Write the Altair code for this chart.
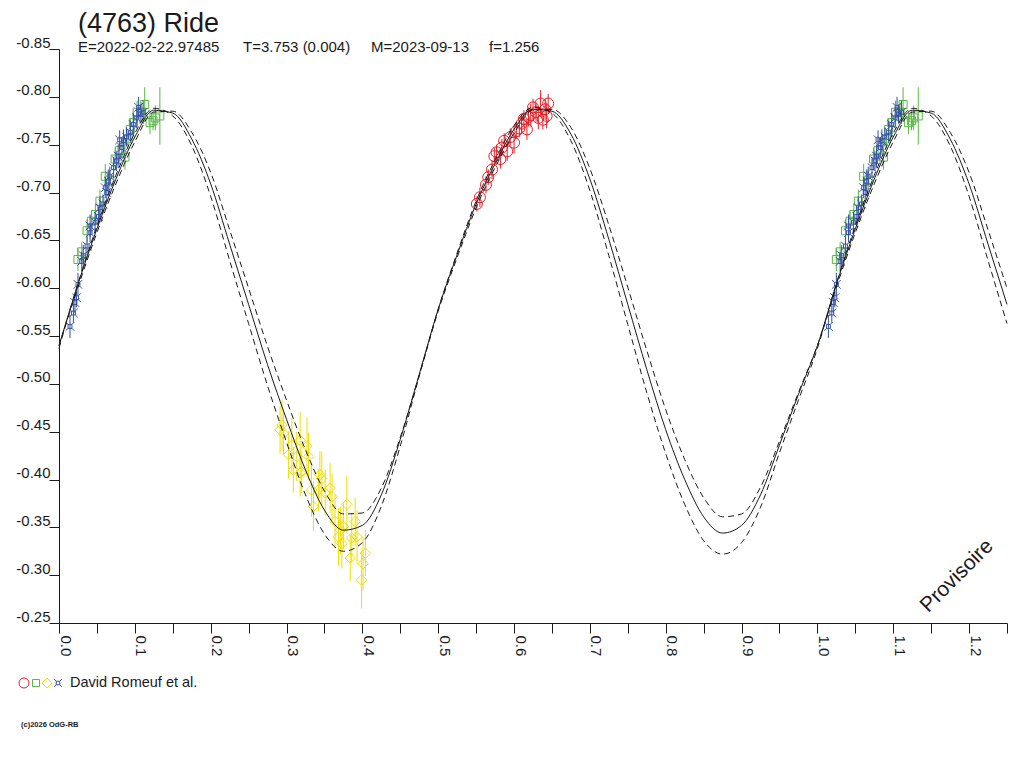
import altair as alt
import pandas as pd

# ---------------- data ----------------
# fitted lightcurve, read every 0.025 in phase from 0 to 0.975 (periodic)
fit_mid = [-0.540, -0.604, -0.662, -0.714, -0.758, -0.786, -0.783, -0.756, -0.709, -0.646,
           -0.583, -0.520, -0.463, -0.410, -0.368, -0.347, -0.352, -0.384, -0.442, -0.510,
           -0.578, -0.635, -0.688, -0.730, -0.766, -0.787, -0.785, -0.761, -0.714, -0.651,
           -0.583, -0.515, -0.452, -0.400, -0.361, -0.344, -0.352, -0.384, -0.436, -0.489]
fit_deep = [-0.537, -0.605, -0.665, -0.718, -0.762, -0.788, -0.780, -0.749, -0.696, -0.629,
            -0.563, -0.498, -0.439, -0.384, -0.343, -0.325, -0.334, -0.372, -0.435, -0.508,
            -0.578, -0.637, -0.691, -0.734, -0.770, -0.789, -0.783, -0.754, -0.702, -0.634,
            -0.562, -0.491, -0.427, -0.374, -0.336, -0.322, -0.334, -0.371, -0.428, -0.483]
fit_shallow = [-0.540, -0.601, -0.658, -0.709, -0.753, -0.784, -0.785, -0.763, -0.721, -0.661,
               -0.600, -0.539, -0.483, -0.431, -0.388, -0.364, -0.365, -0.391, -0.444, -0.509,
               -0.576, -0.632, -0.684, -0.726, -0.762, -0.786, -0.787, -0.768, -0.725, -0.666,
               -0.601, -0.535, -0.473, -0.421, -0.381, -0.361, -0.364, -0.392, -0.440, -0.491]

red_phase = [0.551, 0.555, 0.563, 0.566, 0.571, 0.574, 0.577, 0.582, 0.584, 0.587, 0.591, 0.595,
             0.600, 0.603, 0.607, 0.610, 0.613, 0.617, 0.619, 0.622, 0.625, 0.629, 0.632, 0.635,
             0.638, 0.641, 0.643, 0.645]
red_mag = [-0.688, -0.695, -0.708, -0.716, -0.724, -0.738, -0.742, -0.735, -0.747, -0.754, -0.743, -0.758,
           -0.752, -0.764, -0.767, -0.772, -0.777, -0.766, -0.779, -0.781, -0.789, -0.784, -0.778, -0.793,
           -0.776, -0.787, -0.780, -0.793]
red_err = [0.008, 0.010, 0.009, 0.008, 0.010, 0.009, 0.008, 0.010, 0.009, 0.008, 0.010, 0.009,
           0.011, 0.008, 0.009, 0.010, 0.009, 0.011, 0.010, 0.012, 0.009, 0.010, 0.012, 0.014,
           0.010, 0.011, 0.013, 0.010]

green_phase = [0.025, 0.030, 0.037, 0.043, 0.048, 0.054, 0.061, 0.067, 0.074, 0.080, 0.087,
               0.091, 0.094, 0.098, 0.103, 0.109, 0.113, 0.120, 0.124, 0.127, 0.133]
green_mag = [-0.630, -0.638, -0.660, -0.670, -0.677, -0.691, -0.717, -0.713, -0.735, -0.744, -0.737,
             -0.756, -0.766, -0.773, -0.784, -0.784, -0.792, -0.773, -0.775, -0.778, -0.780]
green_err = [0.012, 0.010, 0.012, 0.010, 0.011, 0.012, 0.013, 0.010, 0.012, 0.011, 0.013,
             0.010, 0.012, 0.011, 0.012, 0.010, 0.018, 0.012, 0.010, 0.013, 0.030]

yellow_phase = [0.2915, 0.294, 0.296, 0.3025, 0.307, 0.309, 0.3135, 0.318, 0.318, 0.320, 0.327,
                0.329, 0.333, 0.3355, 0.342, 0.344, 0.3465, 0.351, 0.3575, 0.360, 0.364, 0.3685,
                0.371, 0.373, 0.375, 0.3795, 0.384, 0.386, 0.3905, 0.393, 0.399, 0.401, 0.404]
yellow_mag = [-0.452, -0.457, -0.448, -0.426, -0.436, -0.410, -0.424, -0.441, -0.407, -0.408, -0.435,
              -0.424, -0.389, -0.372, -0.389, -0.405, -0.401, -0.386, -0.391, -0.382, -0.356, -0.340,
              -0.347, -0.333, -0.351, -0.374, -0.318, -0.339, -0.356, -0.340, -0.295, -0.312, -0.323]
yellow_err = [0.025, 0.027, 0.022, 0.025, 0.028, 0.024, 0.026, 0.030, 0.025, 0.022, 0.030,
              0.025, 0.028, 0.026, 0.022, 0.025, 0.028, 0.024, 0.026, 0.024, 0.028, 0.030,
              0.025, 0.026, 0.024, 0.030, 0.024, 0.026, 0.025, 0.028, 0.030, 0.028, 0.024]

blue_phase = [0.0145, 0.019, 0.021, 0.023, 0.025, 0.030, 0.032, 0.037, 0.041, 0.041, 0.0475,
              0.052, 0.054, 0.058, 0.061, 0.063, 0.065, 0.067, 0.072, 0.076, 0.078, 0.080,
              0.083, 0.085, 0.089, 0.094, 0.098, 0.1025, 0.105, 0.107, 0.111]
blue_mag = [-0.560, -0.574, -0.585, -0.590, -0.604, -0.628, -0.634, -0.644, -0.665, -0.658, -0.669,
            -0.675, -0.684, -0.688, -0.705, -0.700, -0.712, -0.717, -0.726, -0.733, -0.738, -0.755,
            -0.747, -0.754, -0.758, -0.763, -0.771, -0.778, -0.789, -0.782, -0.784]
blue_err = [0.012, 0.010, 0.011, 0.010, 0.012, 0.010, 0.011, 0.010, 0.012, 0.010, 0.011,
            0.010, 0.012, 0.010, 0.011, 0.010, 0.012, 0.010, 0.011, 0.010, 0.012, 0.010,
            0.011, 0.012, 0.010, 0.011, 0.012, 0.010, 0.011, 0.010, 0.012]

title_text = "(4763) Ride"
sub_texts = ["E=2022-02-22.97485", "T=3.753 (0.004)", "M=2023-09-13", "f=1.256"]
legend_text = "David Romeuf et al."
x_ticks = [round(0.05 * i, 2) for i in range(26)]
y_ticks = [round(-0.85 + 0.05 * i, 2) for i in range(13)]

# ---------------- tables ----------------
n_base = len(fit_mid)
curve_rows = []
for name, vals in (("mid", fit_mid), ("deep", fit_deep), ("shallow", fit_shallow)):
    for i in range(51):
        curve_rows.append({"phase": round(i * 0.025, 3), "mag": vals[i % n_base], "curve": name})
curves = pd.DataFrame(curve_rows)


def group_df(ph, mg, er):
    rows = []
    for p, m, e in zip(ph, mg, er):
        for shift in ((0.0, 1.0) if p < 0.25 else (0.0,)):
            rows.append({"phase": p + shift, "mag": m, "lo": m - e, "hi": m + e})
    return pd.DataFrame(rows)


FONT = "Liberation Sans"
INK = "#1a1a1a"
xs = alt.Scale(domain=[0, 1.25], nice=False, zero=False)
ys = alt.Scale(domain=[-0.85, -0.25], nice=False, zero=False, reverse=True)

x_axis = alt.Axis(values=x_ticks, title=None, grid=False, tickSize=10, labelPadding=2,
                  labelAngle=90, labelAlign="left", labelBaseline="alphabetic", labelOffset=1,
                  labelFlush=False, labelOverlap=False,
                  labelExpr="(round(datum.value*100) % 10 == 0) ? format(datum.value, '.1f') : ''",
                  labelFont=FONT, labelFontSize=15, labelColor=INK,
                  domainColor=INK, tickColor=INK)
y_axis = alt.Axis(values=y_ticks, title=None, grid=False, tickSize=10, labelPadding=-1,
                  labelAlign="right", labelBaseline="alphabetic", labelOffset=-2,
                  labelFlush=False, labelOverlap=False,
                  labelExpr="'-' + format(abs(datum.value), '.2f')",
                  labelFont=FONT, labelFontSize=15, labelColor=INK,
                  domainColor=INK, tickColor=INK)

X = alt.X("phase:Q", scale=xs, axis=x_axis)
Y = alt.Y("mag:Q", scale=ys, axis=y_axis)

BLUE_SHAPE = ("M-0.45,-0.45H0.45V0.45H-0.45Z M-0.45,-0.45L-1,-1 M0.45,-0.45L1,-1 "
              "M0.45,0.45L1,1 M-0.45,0.45L-1,1")

groups = [
    (red_phase, red_mag, red_err, "#e4202a", "circle", 121),
    (green_phase, green_mag, green_err, "#5ab646", "square", 64),
    (yellow_phase, yellow_mag, yellow_err, "#f0df00", "diamond", 110),
    (blue_phase, blue_mag, blue_err, "#3550a4", BLUE_SHAPE, 75),
]

layers = []
for ph, mg, er, col, shp, sz in groups:
    df = group_df(ph, mg, er)
    base = alt.Chart(df)
    layers.append(base.mark_rule(color=col, strokeWidth=1).encode(
        x=X, y=alt.Y("lo:Q", scale=ys, axis=y_axis), y2="hi:Q"))
    layers.append(base.mark_point(shape=shp, size=sz, filled=False, color=col,
                                  strokeWidth=1, opacity=1).encode(x=X, y=Y))

for name, dash in (("mid", None), ("deep", [6, 4]), ("shallow", [6, 4])):
    kw = dict(interpolate="monotone", color=INK, strokeWidth=1)
    if dash:
        kw["strokeDash"] = dash
    layers.append(alt.Chart(curves[curves.curve == name]).mark_line(**kw).encode(x=X, y=Y))

one = pd.DataFrame({"a": [0]})
ann = alt.Chart(one)


def label(txt, x, y, size, **kw):
    return ann.mark_text(text=txt, font=FONT, fontSize=size, color=INK, align="left",
                         baseline="middle", **kw).encode(x=alt.value(x), y=alt.value(y))


layers.append(label(title_text, 19, -25, 27))
for txt, xx in zip(sub_texts, [19, 184, 312, 430]):
    layers.append(label(txt, xx, -2, 15))

legend_syms = [(-35, "#e4202a", "circle", 100), (-23, "#5ab646", "square", 49),
               (-12, "#f0df00", "diamond", 100), (-1, "#3550a4", BLUE_SHAPE, 60)]
for xx, col, shp, sz in legend_syms:
    layers.append(ann.mark_point(shape=shp, size=sz, filled=False, color=col, strokeWidth=1,
                                 opacity=1).encode(x=alt.value(xx), y=alt.value(634)))
layers.append(label(legend_text, 11, 634, 14.5))
layers.append(label("(c)2026 OdG-RB", -38, 676, 7.5, fontWeight="bold"))
layers.append(ann.mark_text(text="Provisoire", font=FONT, fontSize=21, color=INK, align="center",
                            baseline="middle", angle=315).encode(x=alt.value(898), y=alt.value(527)))

chart = alt.layer(*layers).properties(
    width=948, height=574,
    autosize=alt.AutoSizeParams(type="none"),
    padding={"left": 51, "top": 41, "right": 9, "bottom": 125},
    background="white",
).configure_view(strokeWidth=0)

chart.save("out.html", embed_options={"renderer": "svg", "actions": False})
